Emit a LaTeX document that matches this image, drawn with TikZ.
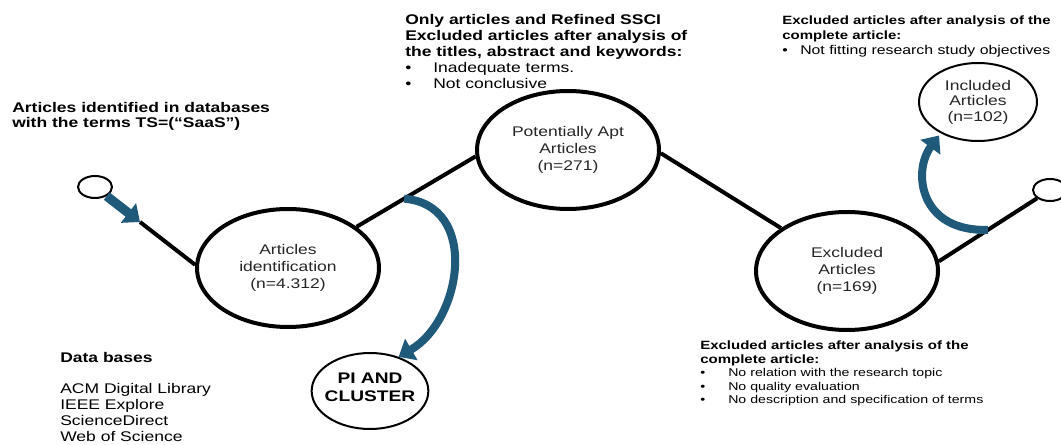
\documentclass[tikz,border=0pt]{standalone}
\usepackage{fontspec}
\setmainfont{Liberation Sans}[FakeStretch=1.25]
\usepackage{tikz}
\usetikzlibrary{shapes.geometric, arrows.meta}
\definecolor{flowblue}{RGB}{31,90,122}
\newcommand{\itemdot}[1]{\makebox[#1][l]{\textbullet}}

\begin{document}
\begin{tikzpicture}[
  x=0.75pt, y=-0.75pt,
  stage/.style={draw, ellipse, line width=3pt, minimum width=136.5pt, minimum height=88.5pt, inner sep=0pt, align=center, text=black!85, font=\fontsize{10.5}{12.75}\selectfont},
  result/.style={draw, ellipse, line width=1.5pt, minimum width=88.5pt, minimum height=58.5pt, inner sep=0pt, align=center, text=black!85, font=\fontsize{10.5}{11.6}\selectfont},
  endpoint/.style={draw, ellipse, line width=1.5pt, minimum width=25.5pt, minimum height=16.5pt, inner sep=0pt},
  link/.style={line width=3pt},
  feed/.style={draw=flowblue, line width=7pt, -{Triangle[length=11pt, width=18pt]}},
  curvearrow/.style={draw=flowblue, line width=6pt, -{Triangle[length=11pt, width=18pt]}},
  note/.style={anchor=north west, inner sep=0pt, align=left}
]
\useasboundingbox (0,0) rectangle (1061,445);

\node[endpoint] (start) at (95,187) {};
\node[stage] (ident) at (288,268) {Articles\\identification\\(n=4.312)};
\node[stage] (apt) at (568,150) {Potentially Apt\\Articles\\(n=271)};
\node[stage] (excl) at (847,271) {Excluded\\Articles\\(n=169)};
\node[endpoint] (finish) at (1050,190) {};
\node[result] (incl) at (978,102) {Included\\Articles\\(n=102)};
\node[result, inner sep=-3pt, minimum width=85.5pt, minimum height=57pt, text=black, font=\bfseries\fontsize{11.5}{13.5}\selectfont] (pic) at (370,391) {PI AND\\CLUSTER\rule[-6pt]{0pt}{0pt}};

\coordinate (tip) at (140,222);
\draw[feed] (start) -- (tip);
\draw[link] (tip) -- (ident.178);
\draw[link] (ident.31) -- coordinate[pos=0.4] (fork) (apt.184);
\draw[link] (apt.-2) -- (excl.147);
\draw[link] (excl.6) -- coordinate[pos=0.5] (split) (finish);
\draw[curvearrow] (fork) .. controls (480,205) and (462,320) .. (pic.50);
\draw[curvearrow, shorten >=2pt] (split) .. controls (920,232) and (912,172) .. (incl.220);

\node[note, font=\bfseries\fontsize{10.5}{11.25}\selectfont] (query) at (12,102) {Articles identified in databases\\with the terms TS=(“SaaS")};
\node[note, font=\fontsize{10.5}{12}\selectfont] (screen) at (405,14) {\textbf{Only articles and Refined SSCI}\\\textbf{Excluded articles after analysis of}\\\textbf{the titles, abstract and keywords:}\\\itemdot{21pt}Inadequate terms.\\\itemdot{21pt}Not conclusive};
\node[note, font=\fontsize{9}{11}\selectfont] (fulltext) at (782,16) {\textbf{Excluded articles after analysis of the}\\\textbf{complete article:}\\{\fontsize{9.5}{11}\selectfont\itemdot{13.5pt}Not fitting research study objectives}};
\node[note, font=\fontsize{9}{10.1}\selectfont] (reasons) at (700,341) {\textbf{Excluded articles after analysis of the}\\\textbf{complete article:}\\{\fontsize{8.5}{10.1}\selectfont\itemdot{21pt}No relation with the research topic}\\{\fontsize{8.5}{10.1}\selectfont\itemdot{21pt}No quality evaluation}\\{\fontsize{8.5}{10.1}\selectfont\itemdot{21pt}No description and specification of terms}};
\node[note, font=\fontsize{10.5}{11.8}\selectfont] (sources) at (60,352) {\textbf{Data bases}\\[11.8pt]ACM Digital Library\\IEEE Explore\\ScienceDirect\\Web of Science};
\end{tikzpicture}
\end{document}
